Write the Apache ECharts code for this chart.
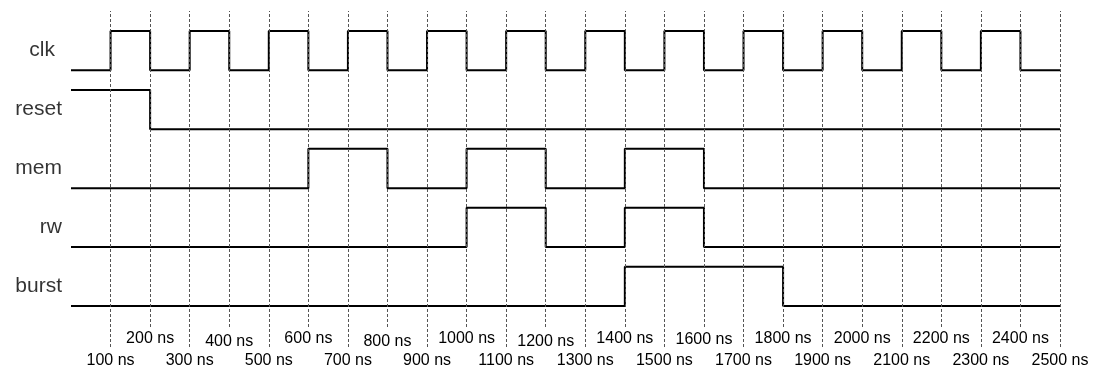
<!DOCTYPE html>
<html>
<head>
<meta charset="utf-8">
<script src="https://cdn.jsdelivr.net/npm/echarts@6/dist/echarts.min.js"></script>
<style>html,body{margin:0;padding:0;background:#fff}#c{width:1094px;height:367px}</style>
</head>
<body>
<div id="c"></div>
<script>
// ---- data ----
const signalNames = ['clk', 'reset', 'mem', 'rw', 'burst'];
// transitions: [time ns, level]
const clkWave   = [[0,0],[100,1],[200,0],[300,1],[400,0],[500,1],[600,0],[700,1],[800,0],[900,1],[1000,0],[1100,1],[1200,0],[1300,1],[1400,0],[1500,1],[1600,0],[1700,1],[1800,0],[1900,1],[2000,0],[2100,1],[2200,0],[2300,1],[2400,0],[2500,0]];
const resetWave = [[0,1],[200,0],[2500,0]];
const memWave   = [[0,0],[600,1],[800,0],[1000,1],[1200,0],[1400,1],[1600,0],[2500,0]];
const rwWave    = [[0,0],[1000,1],[1200,0],[1400,1],[1600,0],[2500,0]];
const burstWave = [[0,0],[1400,1],[1800,0],[2500,0]];
const waves = [clkWave, resetWave, memWave, rwWave, burstWave];
const tickTimes = [100,200,300,400,500,600,700,800,900,1000,1100,1200,1300,1400,1500,1600,1700,1800,1900,2000,2100,2200,2300,2400,2500];
const tickLabels = tickTimes.map(t => t + ' ns');
const tMax = 2500;
const rowStep = 1.5;

// ---- build ----
const chart = echarts.init(document.getElementById('c'));
const nRows = signalNames.length;
const lineStyleDash = { color: '#555', width: 1, type: [3, 2] };
const labelFont = { fontFamily: 'Liberation Sans, Arial, sans-serif', fontSize: 16, color: '#000' };
// small vertical nudges of some tick labels, as in the reference
const labelNudge = { 400: 3, 800: 3, 1200: 3, 1600: 1 };
const rowLabelNudge = { clk: -7 };

function tickMarkData(parity) {
  const out = [];
  tickTimes.forEach((t, i) => {
    if ((i % 2) === parity) {
      const item = { coord: [t, 0], name: tickLabels[i] };
      if (labelNudge[t]) item.label = { offset: [0, labelNudge[t]] };
      out.push([item, { coord: [t, 1] }]);
    }
  });
  return out;
}

const series = [];
// grid 0: odd ticks (100,300,...) longer lines; grid 1: even ticks shorter lines
[0, 1].forEach(g => {
  series.push({
    type: 'line', xAxisIndex: g, yAxisIndex: g, data: [[0, 0]], symbol: 'none',
    lineStyle: { opacity: 0 }, silent: true,
    markLine: {
      silent: true, symbol: ['none', 'none'], animation: false,
      lineStyle: lineStyleDash,
      label: Object.assign({ show: true, position: 'start', distance: g === 0 ? 6 : 4, formatter: p => p.name }, labelFont),
      data: tickMarkData(g)
    }
  });
});
waves.forEach((w, k) => {
  const base = (nRows - 1 - k) * rowStep;
  series.push({
    type: 'line', xAxisIndex: 2, yAxisIndex: 2, step: 'end', symbol: 'none',
    lineStyle: { color: '#000', width: 2 },
    data: w.map(p => [p[0], base + p[1]])
  });
});
series.push({
  type: 'scatter', xAxisIndex: 2, yAxisIndex: 2, symbolSize: 0,
  data: signalNames.map((n, k) => {
    const item = { value: [0, (nRows - 1 - k) * rowStep + 0.5], name: n };
    if (rowLabelNudge[n]) item.label = { offset: [rowLabelNudge[n], 0] };
    return item;
  }),
  label: { show: true, position: 'left', distance: 9, formatter: p => p.name,
    fontFamily: 'Liberation Sans, Arial, sans-serif', fontSize: 21, color: '#000' }
});

const xBase = { type: 'value', min: 0, max: tMax, show: false };
chart.setOption({
  animation: false,
  grid: [
    { left: 71, right: 34, top: 11, bottom: 20 },
    { left: 71, right: 34, top: 11, bottom: 40 },
    { left: 71, right: 34, top: 31, bottom: 61 }
  ],
  xAxis: [Object.assign({ gridIndex: 0 }, xBase), Object.assign({ gridIndex: 1 }, xBase), Object.assign({ gridIndex: 2 }, xBase)],
  yAxis: [
    { gridIndex: 0, type: 'value', min: 0, max: 1, show: false },
    { gridIndex: 1, type: 'value', min: 0, max: 1, show: false },
    { gridIndex: 2, type: 'value', min: 0, max: (nRows - 1) * rowStep + 1, show: false }
  ],
  series: series
});
</script>
</body>
</html>
